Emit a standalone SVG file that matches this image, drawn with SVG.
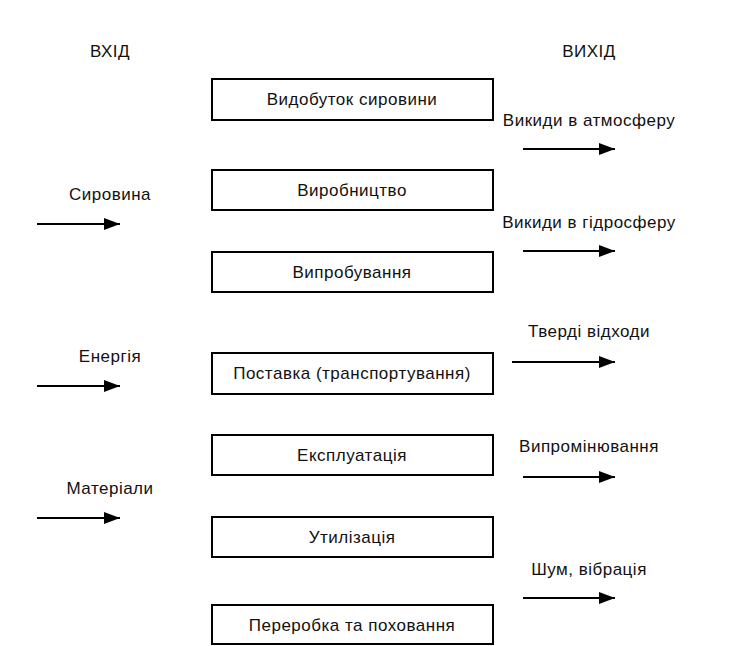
<svg xmlns="http://www.w3.org/2000/svg" width="740" height="646" viewBox="0 0 740 646">
<defs>
<marker id="ah" markerWidth="16" markerHeight="12" refX="16" refY="6" orient="auto" markerUnits="userSpaceOnUse">
<path d="M0,0 L16,6 L0,12 Z" fill="#000"/>
</marker>
<style>
text{font-family:"Liberation Sans",Arial,sans-serif;font-size:17px;letter-spacing:0.5px;fill:#111;text-anchor:middle}
rect{fill:#fff;stroke:#000;stroke-width:2}
.c line{stroke:#000;stroke-width:2;marker-end:url(#ah)}
</style>
</defs>
<rect x="0" y="0" width="740" height="646" style="stroke:none"/>
<g id="headers">
<text x="110" y="57">ВХІД</text>
<text x="589" y="57">ВИХІД</text>
</g>
<g id="n1"><rect x="212" y="79" width="281" height="41"/><text x="352" y="105">Видобуток сировини</text></g>
<g id="n2"><rect x="212" y="170" width="281" height="40"/><text x="352" y="196">Виробництво</text></g>
<g id="n3"><rect x="212" y="252" width="281" height="40"/><text x="352" y="278">Випробування</text></g>
<g id="n4"><rect x="212" y="353" width="281" height="41"/><text x="352" y="379">Поставка (транспортування)</text></g>
<g id="n5"><rect x="212" y="435" width="281" height="40"/><text x="352" y="461">Експлуатація</text></g>
<g id="n6"><rect x="212" y="517" width="281" height="40"/><text x="352" y="543">Утилізація</text></g>
<g id="n7"><rect x="212" y="605" width="281" height="39"/><text x="352" y="631">Переробка та поховання</text></g>
<g id="labels">
<text x="110" y="200">Сировина</text>
<text x="110" y="362">Енергія</text>
<text x="110" y="494">Матеріали</text>
<text x="589" y="126">Викиди в атмосферу</text>
<text x="589" y="228">Викиди в гідросферу</text>
<text x="589" y="337">Тверді відходи</text>
<text x="589" y="452">Випромінювання</text>
<text x="589" y="575">Шум, вібрація</text>
</g>
<g class="c" id="connectors">
<line x1="37" y1="224" x2="120" y2="224"/>
<line x1="37" y1="386" x2="120" y2="386"/>
<line x1="37" y1="518" x2="120" y2="518"/>
<line x1="523" y1="149" x2="615" y2="149"/>
<line x1="523" y1="251" x2="615" y2="251"/>
<line x1="512" y1="362" x2="615" y2="362"/>
<line x1="523" y1="477" x2="615" y2="477"/>
<line x1="523" y1="598" x2="615" y2="598"/>
</g>
</svg>
